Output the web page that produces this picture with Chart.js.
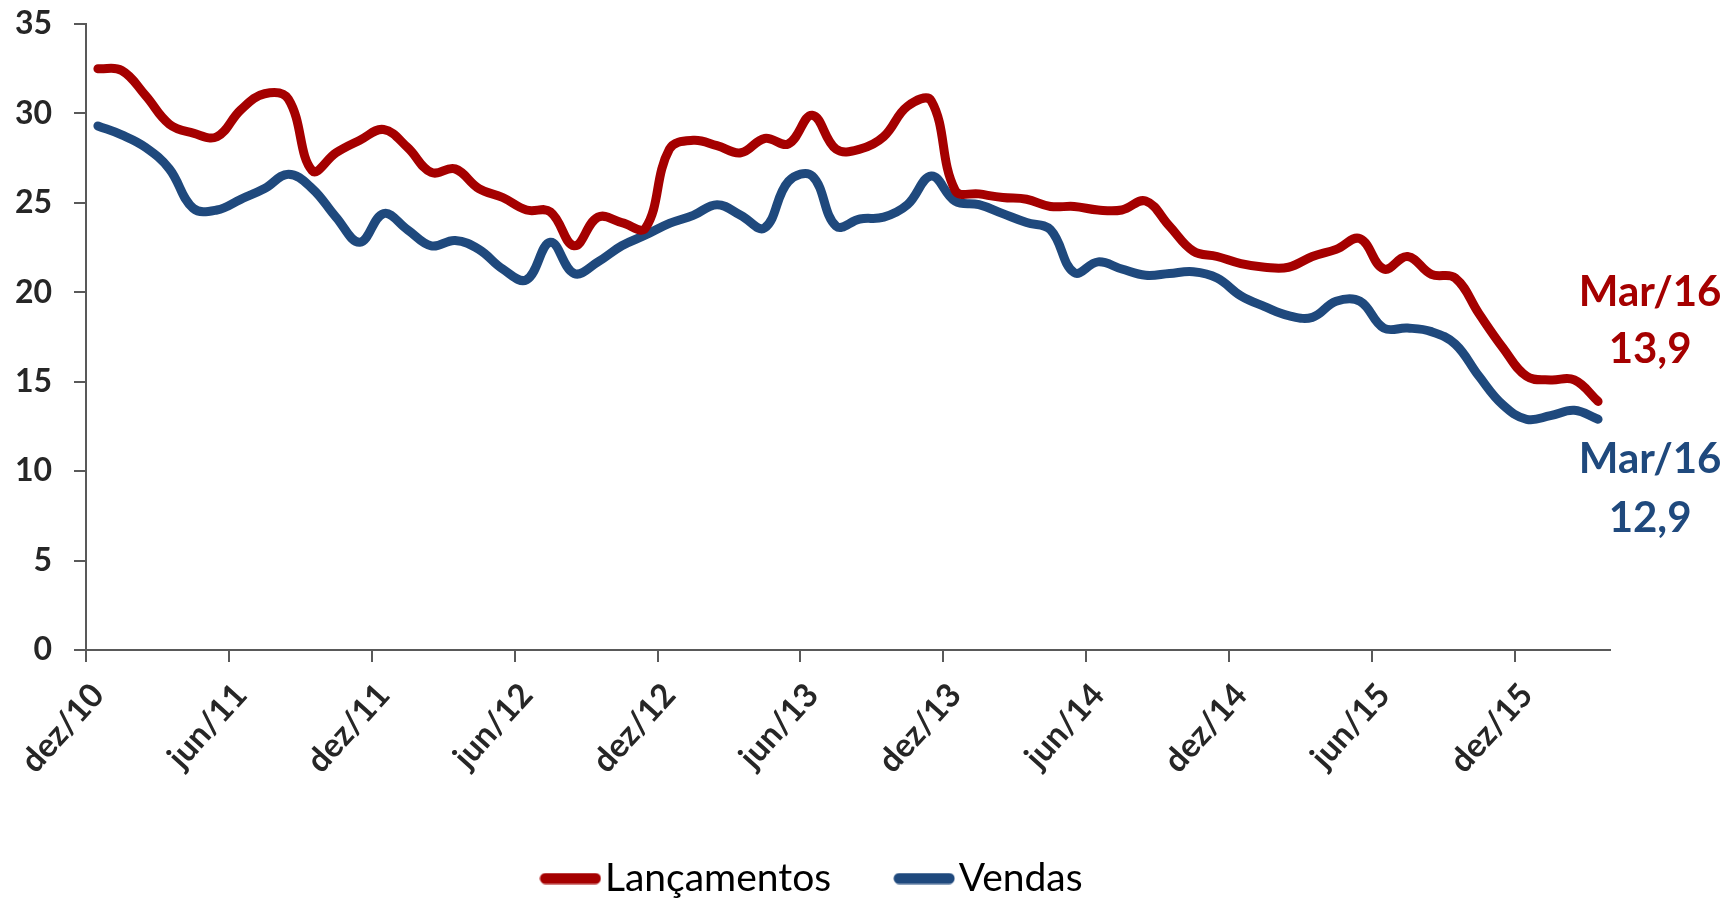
<!DOCTYPE html>
<html lang="pt-BR">
<head>
<meta charset="utf-8">
<title>Lançamentos e Vendas</title>
<script src="https://cdn.jsdelivr.net/npm/chart.js@4.4.1/dist/chart.umd.min.js"></script>
<style>
    html, body { margin: 0; padding: 0; background: #ffffff; }
    #wrap { width: 1729px; height: 899px; }
</style>
</head>
<body>
<div id="wrap"><canvas id="chart" width="1729" height="899"></canvas></div>
<script>
'use strict';

// meses (dez/10 .. mar/16)
var months = [
    'dez/10', 'jan/11', 'fev/11', 'mar/11', 'abr/11', 'mai/11', 'jun/11', 'jul/11', 'ago/11', 'set/11', 'out/11', 'nov/11',
    'dez/11', 'jan/12', 'fev/12', 'mar/12', 'abr/12', 'mai/12', 'jun/12', 'jul/12', 'ago/12', 'set/12', 'out/12', 'nov/12',
    'dez/12', 'jan/13', 'fev/13', 'mar/13', 'abr/13', 'mai/13', 'jun/13', 'jul/13', 'ago/13', 'set/13', 'out/13', 'nov/13',
    'dez/13', 'jan/14', 'fev/14', 'mar/14', 'abr/14', 'mai/14', 'jun/14', 'jul/14', 'ago/14', 'set/14', 'out/14', 'nov/14',
    'dez/14', 'jan/15', 'fev/15', 'mar/15', 'abr/15', 'mai/15', 'jun/15', 'jul/15', 'ago/15', 'set/15', 'out/15', 'nov/15',
    'dez/15', 'jan/16', 'fev/16', 'mar/16'
];

var lancamentos = [
    32.5, 32.4, 31.0, 29.4, 28.9, 28.7, 30.2, 31.1, 30.8, 26.8, 27.8, 28.5,
    29.1, 28.1, 26.7, 26.9, 25.8, 25.3, 24.6, 24.5, 22.6, 24.2, 23.9, 23.6,
    28.0, 28.5, 28.2, 27.8, 28.6, 28.3, 29.9, 28.0, 28.0, 28.7, 30.4, 30.7,
    25.7, 25.5, 25.3, 25.2, 24.8, 24.8, 24.6, 24.6, 25.1, 23.7, 22.3, 22.0,
    21.6, 21.4, 21.4, 22.0, 22.4, 23.0, 21.3, 22.0, 21.0, 20.8, 18.8, 16.9,
    15.3, 15.1, 15.1, 13.9
];

var vendas = [
    29.3, 28.8, 28.1, 26.9, 24.7, 24.6, 25.2, 25.8, 26.6, 25.8, 24.2, 22.8,
    24.4, 23.5, 22.6, 22.9, 22.4, 21.3, 20.7, 22.8, 21.05, 21.7, 22.6, 23.2,
    23.85, 24.3, 24.9, 24.3, 23.6, 26.2, 26.5, 23.7, 24.1, 24.2, 24.9, 26.5,
    25.1, 24.9, 24.4, 23.9, 23.5, 21.1, 21.7, 21.3, 20.95, 21.05, 21.15, 20.8,
    19.8, 19.2, 18.7, 18.6, 19.5, 19.5, 18.0, 18.0, 17.8, 17.1, 15.3, 13.7,
    12.9, 13.1, 13.4, 12.9
];

var yTicks = [0, 5, 10, 15, 20, 25, 30, 35];
var endLabels = ['Mar/16', '13,9', 'Mar/16', '12,9'];

var RED = '#a50000';
var BLUE = '#1f497d';
var AXIS = '#595959';
var TEXT = '#262626';

// amostra de linha da legenda (traço arredondado)
function legendSwatch(color) {
    var c = document.createElement('canvas');
    c.width = 62;
    c.height = 12;
    var g = c.getContext('2d');
    g.strokeStyle = color;
    g.lineWidth = 11;
    g.lineCap = 'round';
    g.beginPath();
    g.moveTo(6, 6);
    g.lineTo(56, 6);
    g.stroke();
    return c;
}

// rótulos finais ao lado das linhas
var endLabelPlugin = {
    id: 'endLabelPlugin',
    afterLayout: function(chart) {
        // legenda um pouco à direita, como no original
        chart.legend.left += 14;
        chart.legend.right += 14;
    },
    afterDatasetsDraw: function(chart) {
        var ctx = chart.ctx;
        var x = chart.scales.x;
        var y = chart.scales.y;
        var last = months.length - 1;
        var cx = x.getPixelForValue(last) + 52;
        var yRed = y.getPixelForValue(lancamentos[last]);
        var yBlue = y.getPixelForValue(vendas[last]);

        ctx.save();
        ctx.font = 'bold 42px Lato';
        ctx.textAlign = 'center';
        ctx.textBaseline = 'alphabetic';
        ctx.fillStyle = RED;
        ctx.fillText(endLabels[0], cx, yRed - 95);
        ctx.fillText(endLabels[1], cx, yRed - 38);
        ctx.fillStyle = BLUE;
        ctx.fillText(endLabels[2], cx, yBlue + 54);
        ctx.fillText(endLabels[3], cx, yBlue + 113);
        ctx.restore();
    }
};

var ctx = document.getElementById('chart').getContext('2d');

var chart = new Chart(ctx, {
    type: 'line',
    data: {
        labels: months,
        datasets: [
            {
                label: 'Lançamentos',
                data: lancamentos,
                borderColor: RED,
                backgroundColor: RED,
                borderWidth: 9,
                tension: 0.4,
                pointRadius: 0,
                borderCapStyle: 'round',
                borderJoinStyle: 'round'
            },
            {
                label: 'Vendas',
                data: vendas,
                borderColor: BLUE,
                backgroundColor: BLUE,
                borderWidth: 9,
                tension: 0.4,
                pointRadius: 0,
                borderCapStyle: 'round',
                borderJoinStyle: 'round'
            }
        ]
    },
    options: {
        responsive: false,
        animation: false,
        layout: {
            padding: { left: 0, right: 119, top: 24, bottom: -9 }
        },
        plugins: {
            tooltip: { enabled: false },
            legend: {
                position: 'bottom',
                labels: {
                    font: { family: 'Lato', size: 39 },
                    color: '#000000',
                    usePointStyle: true,
                    pointStyleWidth: 30,
                    boxHeight: 12,
                    padding: 78,
                    generateLabels: function(chart) {
                        var items = Chart.defaults.plugins.legend.labels.generateLabels(chart);
                        items.forEach(function(item) {
                            item.lineWidth = 0;
                            item.pointStyle = legendSwatch(item.strokeStyle);
                        });
                        return items;
                    }
                }
            }
        },
        scales: {
            x: {
                offset: true,
                grid: {
                    offset: true,
                    drawOnChartArea: false,
                    tickLength: 12,
                    lineWidth: 2,
                    color: function(c) {
                        return c.index % 6 === 0 ? AXIS : 'rgba(0,0,0,0)';
                    }
                },
                border: { color: AXIS, width: 2 },
                ticks: {
                    autoSkip: false,
                    maxRotation: 48,
                    minRotation: 48,
                    padding: 14,
                    color: TEXT,
                    font: { family: 'Lato', size: 33, weight: 'bold' },
                    callback: function(value, index) {
                        return index % 6 === 0 ? months[index] : '';
                    }
                },
                afterFit: function(scale) {
                    scale.height = 131;
                }
            },
            y: {
                min: 0,
                max: 35,
                afterBuildTicks: function(scale) {
                    scale.ticks = yTicks.map(function(v) { return { value: v }; });
                },
                grid: {
                    drawOnChartArea: false,
                    tickLength: 12,
                    lineWidth: 2,
                    color: AXIS
                },
                border: { color: AXIS, width: 2 },
                ticks: {
                    padding: 22,
                    color: TEXT,
                    font: { family: 'Lato', size: 32, weight: 'bold' }
                },
                afterFit: function(scale) {
                    scale.width = 86;
                    scale.paddingTop = 0;
                    scale.paddingBottom = 0;
                }
            }
        }
    },
    plugins: [endLabelPlugin]
});
</script>
</body>
</html>
